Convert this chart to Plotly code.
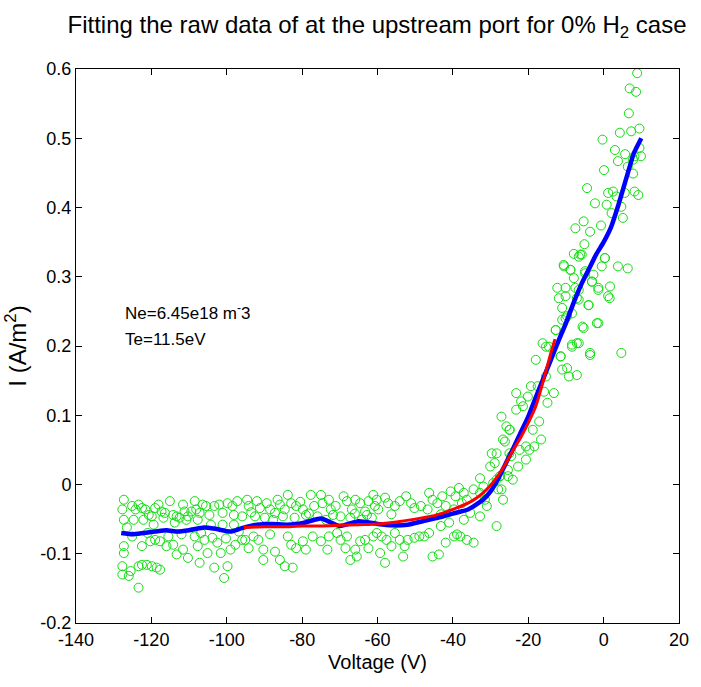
import plotly.graph_objects as go

# ---------------- data ----------------
raw_points_a = [(-127.3,-0.022),(-127.7,-0.036),(-127.3,-0.051),(-127.3,-0.089),(-127.3,-0.099),(-127.7,-0.118),(-127.7,-0.130),(-126.0,-0.132),(-125.5,-0.125),(-123.4,-0.149),(-123.4,-0.118),(-122.5,-0.116),(-121.2,-0.116),(-119.9,-0.118),(-118.6,-0.120),(-117.7,-0.123),
    (-125.1,-0.031),(-124.2,-0.036),(-123.4,-0.029),(-122.5,-0.034),(-121.6,-0.036),(-120.7,-0.044),(-119.9,-0.046),(-119.0,-0.034),(-118.1,-0.029),(-117.3,-0.039),(-116.4,-0.041),(-115.1,-0.024),(-114.2,-0.044),(-113.3,-0.046),(-112.5,-0.048),(-111.6,-0.029),(-111.2,-0.039),(-110.3,-0.046),(-109.4,-0.039),(-108.5,-0.024),(-108.1,-0.036),(-107.2,-0.041),(-106.4,-0.029),(-105.5,-0.031),(-104.6,-0.044),(-103.3,-0.031),(-102.0,-0.029),(-101.1,-0.041),(-99.8,-0.027),(-98.5,-0.031),(-98.1,-0.044),(-97.2,-0.024),(-95.9,-0.046),
    (-124.7,-0.051),(-122.1,-0.051),(-119.4,-0.058),(-116.8,-0.048),(-113.8,-0.055),(-110.7,-0.051),(-107.7,-0.051),(-104.2,-0.058),(-101.1,-0.058),(-98.1,-0.058),
    (-125.1,-0.075),(-122.5,-0.089),(-120.3,-0.082),(-119.0,-0.080),(-117.7,-0.082),(-116.0,-0.089),(-114.2,-0.087),(-113.3,-0.101),(-111.6,-0.094),(-110.3,-0.106),(-107.7,-0.089),(-107.2,-0.113),(-105.9,-0.080),(-105.1,-0.099),(-103.8,-0.077),(-103.3,-0.120),(-101.6,-0.099),(-100.7,-0.135),(-99.8,-0.118),(-99.0,-0.094),(-97.7,-0.087),(-95.9,-0.080),(-108.5,-0.075),(-102.5,-0.084),
    (-126.5,-0.062),(-121.0,-0.070),(-115.5,-0.075),(-112.0,-0.072),(-106.8,-0.070),(-100.2,-0.078),(-96.8,-0.068)]

raw_points_b = [(-94.6,-0.022),(-94.2,-0.031),(-92.0,-0.024),(-91.2,-0.034),(-89.4,-0.027),(-88.5,-0.036),(-87.2,-0.041),(-85.9,-0.029),(-84.6,-0.036),(-83.8,-0.015),(-82.9,-0.027),(-81.6,-0.031),(-79.8,-0.036),(-77.7,-0.015),(-76.8,-0.031),(-75.0,-0.015),(-74.6,-0.027),(-72.9,-0.022),(-72.4,-0.036),(-71.1,-0.031),(-69.0,-0.017),(-68.1,-0.024),(-66.8,-0.036),(-65.9,-0.022),(-64.6,-0.027),(-63.3,-0.039),(-62.4,-0.024),(-61.1,-0.015),(-60.7,-0.031),
    (-92.5,-0.046),(-89.9,-0.048),(-87.7,-0.051),(-85.1,-0.046),(-82.0,-0.048),(-79.0,-0.044),(-75.9,-0.046),(-73.7,-0.051),(-69.8,-0.046),(-67.2,-0.048),(-64.2,-0.051),(-61.5,-0.048),
    (-95.1,-0.080),(-94.2,-0.092),(-92.9,-0.075),(-91.6,-0.080),(-90.3,-0.094),(-90.3,-0.109),(-88.5,-0.072),(-87.2,-0.097),(-85.9,-0.109),(-84.6,-0.118),(-83.8,-0.075),(-82.9,-0.087),(-82.5,-0.120),(-81.6,-0.092),(-79.8,-0.082),(-79.0,-0.094),(-77.2,-0.075),(-75.0,-0.082),(-73.3,-0.094),(-72.9,-0.075),(-70.7,-0.070),(-69.8,-0.080),(-68.5,-0.092),(-68.1,-0.075),(-67.2,-0.109),(-65.9,-0.094),(-65.5,-0.104),(-64.6,-0.082),(-63.3,-0.080),(-62.4,-0.092),(-61.1,-0.075),
    (-93.5,-0.040),(-86.5,-0.022),(-80.5,-0.025),(-78.2,-0.042),(-71.8,-0.044),(-66.0,-0.042),(-62.8,-0.044)]

raw_points_c = [(-60.2,-0.022),(-58.0,-0.019),(-57.2,-0.027),(-55.4,-0.031),(-54.1,-0.024),(-52.4,-0.017),(-51.1,-0.027),(-50.2,-0.034),(-48.5,-0.031),(-59.8,-0.036),(-56.3,-0.043),
    (-60.2,-0.070),(-58.9,-0.075),(-57.6,-0.080),(-56.3,-0.089),(-55.4,-0.070),(-54.1,-0.080),(-52.8,-0.089),(-52.0,-0.080),(-50.2,-0.077),(-58.0,-0.113),(-53.2,-0.104),(-59.3,-0.099),(-48.9,-0.075),
    (-46.3,-0.012),(-45.4,-0.022),(-44.1,-0.027),(-42.8,-0.017),(-41.9,-0.031),(-40.6,-0.010),(-39.3,-0.017),(-38.4,-0.005),(-37.1,-0.012),(-36.3,-0.022),(-34.5,-0.007),(-46.7,-0.036),(-43.2,-0.043),(-39.7,-0.036),(-37.6,-0.027),
    (-47.6,-0.075),(-46.3,-0.070),(-45.4,-0.104),(-43.7,-0.101),(-43.2,-0.060),(-41.9,-0.084),(-39.7,-0.075),(-38.9,-0.072),(-38.0,-0.075),(-36.3,-0.080),(-34.5,-0.084),(-41.0,-0.055),(-37.1,-0.051),(-35.4,-0.041),(-32.8,-0.046),
    (-32.8,0.009),(-31.9,-0.003),(-30.1,0.026),(-29.3,0.002),(-28.4,0.007),(-27.1,-0.007),(-26.7,-0.022),(-29.7,0.045),(-28.9,0.031),(-27.1,0.098),(-25.8,0.084),(-25.0,0.079),(-26.2,0.062),(-25.0,0.045),(-27.5,0.012),(-25.4,0.012),(-28.4,-0.060),(-31.0,-0.031),(-32.8,-0.012),(-31.5,-0.022)]

raw_points_d = [(-28.0,-0.007),(-27.5,0.012),(-28.4,0.045),(-26.7,0.065),(-24.9,0.079),(-25.4,0.021),(-24.1,0.007),(-22.7,0.026),(-24.5,0.041),(-22.3,0.050),(-20.6,0.036),(-20.6,0.055),(-19.7,0.050),(-18.4,0.055),(-16.6,0.065),(-18.8,0.079),(-17.1,0.091),(-23.2,0.108),(-21.4,0.113),(-21.9,0.120),(-20.1,0.127),(-23.2,0.132),(-19.3,0.142),(-17.5,0.142),(-15.3,0.156),(-15.8,0.134),(-14.9,0.118),(-13.2,0.132),(-18.0,0.180),(-16.2,0.204),(-15.3,0.199),(-12.7,0.223),(-14.5,0.199),(-11.4,0.185),(-11.0,0.166),(-9.7,0.168),(-9.2,0.156),(-7.1,0.158),(-8.4,0.199),(-6.6,0.204),(-3.6,0.187),(-5.3,0.226),(-11.0,0.238),(-9.7,0.243),(-8.4,0.247),(-11.9,0.269),(-10.1,0.272),(-6.6,0.267),(-4.0,0.259),(-1.4,0.233),(1.2,0.272),(-10.6,0.317),(-8.8,0.310),(-7.5,0.284),(-6.6,0.329),(-5.8,0.332),(-4.9,0.305),(-3.1,0.293),(-1.4,0.281),(-0.5,0.315),(0.3,0.327),(1.6,0.269)]

raw_points_e = [(8.9,0.594),(6.9,0.572),(8.6,0.567),(6.7,0.536),(9.5,0.514),(7.3,0.510),(4.3,0.508),(-0.3,0.498),(3.0,0.483),(5.7,0.477),(3.8,0.467),(7.8,0.469),(9.5,0.486),(9.9,0.474),(8.2,0.474),(0.1,0.454),(6.4,0.459),(7.8,0.449),(-4.4,0.428),(1.2,0.421),(2.5,0.423),(3.4,0.416),(5.6,0.421),(8.2,0.423),(9.2,0.418),(-2.3,0.406),(0.8,0.404),(2.1,0.392),(4.7,0.401),(5.1,0.385),(-7.5,0.370),(-5.3,0.380),(-3.6,0.365),(-0.7,0.374),(-5.1,0.347),(-7.9,0.333),(-6.2,0.332),(-10.5,0.315),(-8.8,0.310),(-4.9,0.308),(0.35,0.327),(3.8,0.315),(6.4,0.312),(-2.7,0.303),(-1.4,0.284),(-3.1,0.293),(1.7,0.286),(-12.3,0.284),(-10.1,0.284),(-7.9,0.298),(-6.6,0.281),(-11.0,0.255),(-10.1,0.240),(-4.0,0.259),(-7.1,0.269),(-5.6,0.228),(-1.8,0.233),(-12.7,0.223),(-8.4,0.202),(-7.1,0.204),(-3.6,0.190),(4.7,0.190),(-11.4,0.185)]

smooth_v = [-128,-125,-122,-119,-116,-113,-110,-106,-103,-99,-96,-92,-88,-84,-80,-75,-70,-65,-60,-56,-52,-48,-44,-40,-36,-32,-30,-28,-26,-24,-22,-20,-18,-16,-14,-12,-10,-8,-6,-4,-2,0,2,4,6,8,10]
smooth_i = [-0.070,-0.072,-0.070,-0.068,-0.066,-0.068,-0.066,-0.062,-0.064,-0.068,-0.063,-0.058,-0.057,-0.058,-0.056,-0.049,-0.060,-0.053,-0.057,-0.059,-0.058,-0.053,-0.048,-0.042,-0.036,-0.022,-0.010,0.008,0.030,0.052,0.075,0.098,0.126,0.153,0.180,0.207,0.233,0.262,0.288,0.310,0.332,0.350,0.372,0.405,0.442,0.478,0.500]

fit_v = [-95.5,-90,-85,-80,-75,-70,-65,-60,-55,-50,-45,-40,-35,-32,-30,-28,-26,-24,-22,-20,-18,-16,-14,-12.9]
fit_i = [-0.062,-0.061,-0.061,-0.060,-0.060,-0.059,-0.058,-0.057,-0.054,-0.050,-0.045,-0.036,-0.024,-0.012,-0.001,0.013,0.030,0.050,0.068,0.089,0.113,0.150,0.190,0.210]

x_ticks = [-140,-120,-100,-80,-60,-40,-20,0,20]
x_tick_labels = ["-140","-120","-100","-80","-60","-40","-20","0","20"]
y_ticks = [-0.2,-0.1,0,0.1,0.2,0.3,0.4,0.5,0.6]
y_tick_labels = ["-0.2","-0.1","0","0.1","0.2","0.3","0.4","0.5","0.6"]

title_text = "Fitting the raw data of at the upstream port for 0% H<sub>2</sub> case"
ne_text = "Ne=6.45e18 m<sup>-</sup>3"
te_text = "Te=11.5eV"

# ---------------- figure ----------------
raw = raw_points_a + raw_points_b + raw_points_c + raw_points_d + raw_points_e
raw_v = [p[0] for p in raw]
raw_i = [p[1] for p in raw]

FONT = "Liberation Sans, Arial, sans-serif"

fig = go.Figure()
fig.add_trace(go.Scatter(x=raw_v, y=raw_i, mode="markers",
                         marker=dict(symbol="circle-open", size=9, color="#11DD11", line=dict(width=1)),
                         hoverinfo="skip"))
fig.add_trace(go.Scatter(x=smooth_v, y=smooth_i, mode="lines",
                         line=dict(color="#0000FF", width=4.5, shape="spline", smoothing=0.5)))
fig.add_trace(go.Scatter(x=fit_v, y=fit_i, mode="lines",
                         line=dict(color="#FF0000", width=3, shape="spline", smoothing=0.6)))

axis_common = dict(showgrid=False, zeroline=False, showline=True, linecolor="black", linewidth=1,
                   mirror="ticks", ticks="inside", ticklen=6, tickcolor="black",
                   tickfont=dict(family=FONT, size=18, color="black"))

fig.update_layout(
    width=701, height=687,
    margin=dict(l=76, r=12, t=69, b=64),
    paper_bgcolor="white", plot_bgcolor="white",
    showlegend=False,
    title=dict(text=title_text, x=377 / 701, xref="container", xanchor="center", y=1 - 25 / 687, yanchor="middle",
               font=dict(family=FONT, size=24, color="black")),
    xaxis=dict(range=[-140, 20], tickvals=x_ticks, ticktext=x_tick_labels,
               title=dict(text="Voltage (V)", font=dict(family=FONT, size=20, color="black"), standoff=6),
               **axis_common),
    yaxis=dict(range=[-0.2, 0.6], tickvals=y_ticks, ticktext=y_tick_labels,
               title=dict(text="I (A/m<sup>2</sup>)", font=dict(family=FONT, size=24, color="black"), standoff=6),
               **axis_common),
)

fig.add_annotation(x=-127.6, y=0.249, xref="x", yref="y", text=ne_text, showarrow=False,
                   xanchor="left", yanchor="middle", font=dict(family=FONT, size=17, color="black"))
fig.add_annotation(x=-127.6, y=0.210, xref="x", yref="y", text=te_text, showarrow=False,
                   xanchor="left", yanchor="middle", font=dict(family=FONT, size=17, color="black"))

fig.write_html("out.html")
